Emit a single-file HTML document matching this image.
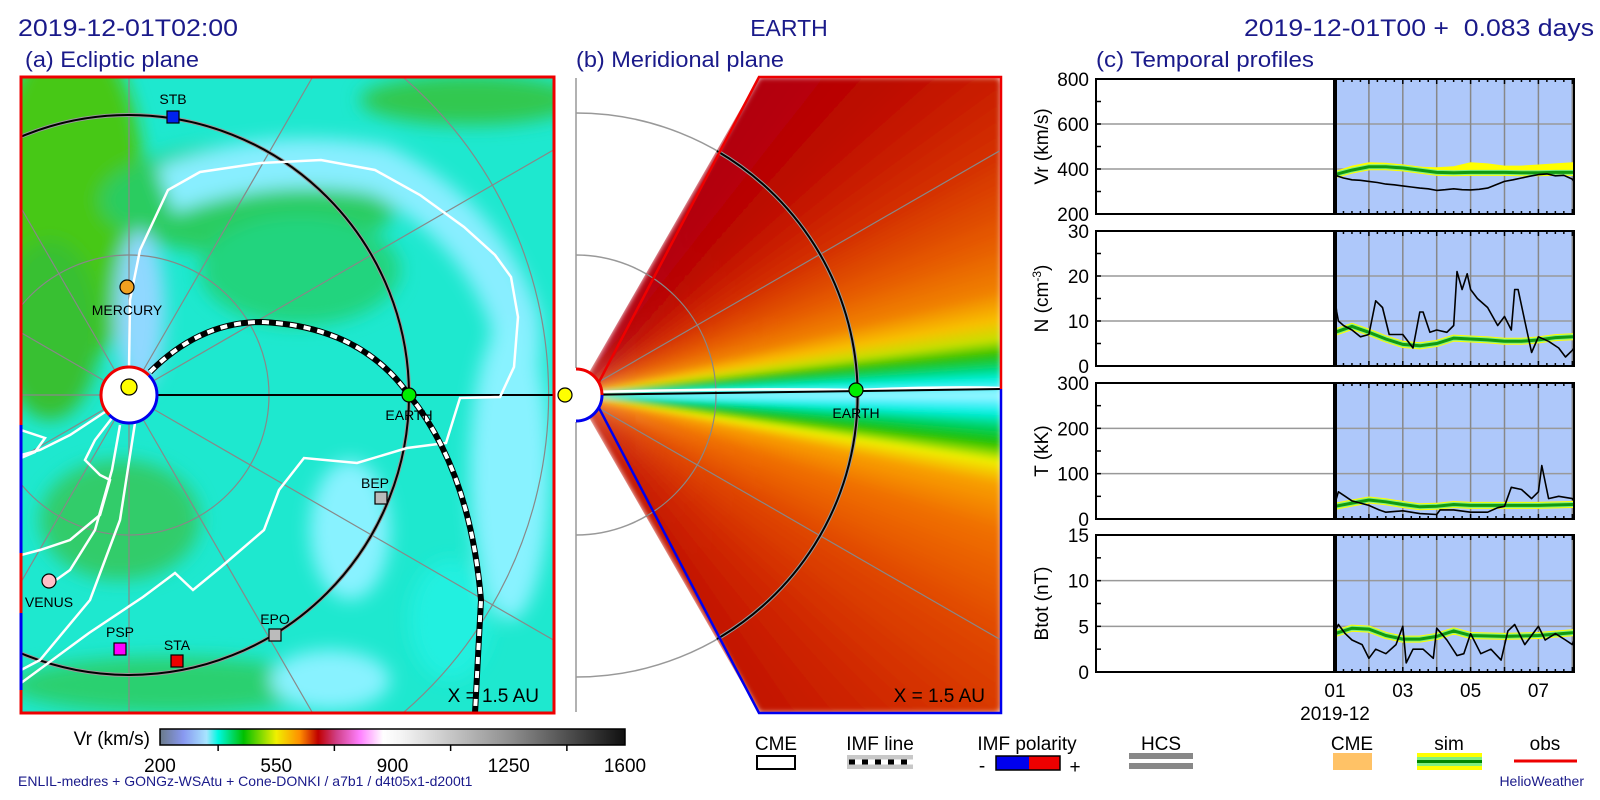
<!DOCTYPE html>
<html><head><meta charset="utf-8">
<style>
html,body{margin:0;padding:0;background:#fff;width:1600px;height:800px;overflow:hidden;}
svg{display:block;font-family:"Liberation Sans",sans-serif;}
</style></head>
<body>
<svg id="fig" width="1600" height="800" viewBox="0 0 1600 800" xmlns="http://www.w3.org/2000/svg">
<defs>
  <filter id="blur8" x="-20%" y="-20%" width="140%" height="140%"><feGaussianBlur stdDeviation="9"/></filter>
  <filter id="blur3"><feGaussianBlur stdDeviation="3"/></filter>
  <clipPath id="clipA"><rect x="21" y="77" width="533" height="636"/></clipPath>
  <clipPath id="clipB"><polygon points="576,395 759,77 1001,77 1001,713 759,713"/></clipPath>
  <linearGradient id="cbar" x1="0" x2="1" y1="0" y2="0">
    <stop offset="0" stop-color="#6a7a8a"/>
    <stop offset="0.05" stop-color="#8898f0"/>
    <stop offset="0.1" stop-color="#a8e4ff"/>
    <stop offset="0.125" stop-color="#00f8e0"/>
    <stop offset="0.18" stop-color="#00c000"/>
    <stop offset="0.25" stop-color="#f0f000"/>
    <stop offset="0.3" stop-color="#ff9000"/>
    <stop offset="0.34" stop-color="#c00000"/>
    <stop offset="0.38" stop-color="#d04088"/>
    <stop offset="0.43" stop-color="#ff80ff"/>
    <stop offset="0.48" stop-color="#ffffff"/>
    <stop offset="0.52" stop-color="#f4f4f4"/>
    <stop offset="0.75" stop-color="#909090"/>
    <stop offset="1" stop-color="#101010"/>
  </linearGradient>
</defs>

<text x="18" y="36" font-size="24" fill="#1a1a8a" textLength="220" lengthAdjust="spacingAndGlyphs">2019-12-01T02:00</text>
<text x="789" y="36" font-size="23" fill="#1a1a8a" text-anchor="middle">EARTH</text>
<text x="1594" y="36" font-size="24" fill="#1a1a8a" text-anchor="end" xml:space="preserve" textLength="350" lengthAdjust="spacingAndGlyphs">2019-12-01T00 +  0.083 days</text>
<text x="25" y="67" font-size="22" fill="#1a1a8a" textLength="174" lengthAdjust="spacingAndGlyphs">(a) Ecliptic plane</text>
<text x="576" y="67" font-size="22" fill="#1a1a8a" textLength="208" lengthAdjust="spacingAndGlyphs">(b) Meridional plane</text>
<text x="1096" y="67" font-size="22" fill="#1a1a8a" textLength="218" lengthAdjust="spacingAndGlyphs">(c) Temporal profiles</text>

<g id="panelA" clip-path="url(#clipA)">
  <rect x="21" y="77" width="533" height="636" fill="#1ee8cf"/>
  <g filter="url(#blur8)">
    <ellipse cx="70" cy="200" rx="75" ry="170" fill="#46c812"/>
    <ellipse cx="50" cy="330" rx="50" ry="90" fill="#38c030"/>
    <ellipse cx="250" cy="200" rx="150" ry="55" fill="#2ccc60"/>
    <ellipse cx="300" cy="270" rx="100" ry="55" fill="#22d47e"/>
    <ellipse cx="470" cy="100" rx="110" ry="25" fill="#30c850"/>
    <ellipse cx="170" cy="685" rx="160" ry="28" fill="#2cd070"/>
    <ellipse cx="120" cy="520" rx="80" ry="60" fill="#30cc6a"/>
    <path d="M165,190 Q270,150 380,170 Q480,220 515,320 Q520,380 500,400" fill="none" stroke="#88eeff" stroke-width="50"/>
    <ellipse cx="510" cy="470" rx="40" ry="150" fill="#88f2ff"/>
    <ellipse cx="350" cy="530" rx="40" ry="70" fill="#88f2ff"/>
    <ellipse cx="330" cy="680" rx="60" ry="30" fill="#88f2ff"/>
    <ellipse cx="140" cy="310" rx="25" ry="80" fill="#90d8ff"/>
    <ellipse cx="450" cy="620" rx="40" ry="60" fill="#20f0e0"/>
  </g>
  <g id="gridA" stroke="#888" stroke-width="1.2" fill="none">
    <circle cx="129" cy="395" r="140"/>
    <path d="M403,713 A420,420 0 0 0 403,77"/>
  </g>
  <circle cx="129" cy="395" r="280" fill="none" stroke="#999" stroke-width="4"/>
  <circle cx="129" cy="395" r="280" fill="none" stroke="#000" stroke-width="2"/>
  <line x1="21" y1="395" x2="129" y2="395" stroke="#888" stroke-width="1.2"/>
  <line x1="129" y1="395" x2="554" y2="395" stroke="#000" stroke-width="2"/>
  <g fill="none" stroke="#fff" stroke-width="2.5">
    <path d="M129,370 L130,300 L140,250 L168,190 L200,172 L261,163 L321,160 L375,170 L420,195 L464,227 L495,255 L511,277 L518,317 L514,367 L500,397 L460,398 L446,443 L407,448 L357,463 L304,458 L279,490 L264,530 L221,567 L193,590 L175,573 L143,597 L89,633 L21,683"/>
    <path d="M112,418 L95,440 L85,460 L100,475 L110,480 L100,515 L70,540 L40,550 L21,555"/>
    <path d="M108,410 L70,435 L40,450 L21,455"/>
    <path d="M120,425 L112,470 L95,530 L70,570 L49,585"/>
    <path d="M21,430 L45,438 L35,452 L21,458"/>
    <path d="M135,423 L120,520 L90,600 L40,660 L21,670"/>
  </g>
  <path d="M150,372 Q200,322 261,322 Q360,326 409,395 Q470,470 481,600 L475,713" fill="none" stroke="#000" stroke-width="6"/>
  <path d="M150,372 Q200,322 261,322 Q360,326 409,395 Q470,470 481,600 L475,713" fill="none" stroke="#fff" stroke-width="4" stroke-dasharray="7 7"/>
  <circle cx="129" cy="395" r="28" fill="#fff"/>
  <path d="M148.8,375.2 A28,28 0 0 0 109.2,414.8" fill="none" stroke="#e00" stroke-width="3"/>
  <path d="M109.2,414.8 A28,28 0 0 0 148.8,375.2" fill="none" stroke="#00e" stroke-width="3"/>
  <circle cx="129" cy="387" r="8" fill="#ff0" stroke="#000" stroke-width="1.2"/>
  <g font-size="14" text-anchor="middle" fill="#000" stroke="#000" stroke-width="1.2">
    <rect x="167" y="111" width="12" height="12" fill="#0022ee"/>
    <circle cx="127" cy="287" r="7" fill="#f0a020"/>
    <rect x="375" y="492" width="12" height="12" fill="#bbb"/>
    <rect x="269" y="629" width="12" height="12" fill="#bbb"/>
    <rect x="171" y="655" width="12" height="12" fill="#ee0000"/>
    <rect x="114" y="643" width="12" height="12" fill="#ff00ff"/>
    <circle cx="49" cy="581" r="7" fill="#ffc0c8"/>
    <circle cx="409" cy="395" r="7" fill="#00ee00"/>
  </g>
  <g font-size="14" text-anchor="middle" fill="#000">
    <text x="173" y="104">STB</text>
    <text x="127" y="315">MERCURY</text>
    <text x="375" y="488">BEP</text>
    <text x="275" y="624">EPO</text>
    <text x="177" y="650">STA</text>
    <text x="120" y="637">PSP</text>
    <text x="49" y="607">VENUS</text>
    <text x="409" y="420">EARTH</text>
  </g>
  <text x="539" y="702" font-size="19" text-anchor="end" fill="#000">X = 1.5 AU</text>
</g>
<rect x="21" y="77" width="533" height="636" fill="none" stroke="#ee0000" stroke-width="3"/>
<line x1="21" y1="425" x2="21" y2="553" stroke="#0000ee" stroke-width="3"/>
<line x1="21" y1="613" x2="21" y2="690" stroke="#0000ee" stroke-width="3"/>

<g>
  <line x1="576" y1="78" x2="576" y2="368" stroke="#999" stroke-width="1.5"/>
  <line x1="576" y1="422" x2="576" y2="712" stroke="#999" stroke-width="1.5"/>
  <path d="M576,255 A140,140 0 0 1 576,535" fill="none" stroke="#999" stroke-width="1.5"/>
  <path d="M576,113 A282,282 0 0 1 576,677" fill="none" stroke="#999" stroke-width="1.5"/>
  <g clip-path="url(#clipB)">
    <g id="sectorsB" filter="url(#blur3)"></g>
    <g stroke="#888" stroke-width="1.2" fill="none">
      <path d="M576,255 A140,140 0 0 1 576,535"/>
      <line x1="576" y1="395" x2="1001" y2="150"/>
      <line x1="576" y1="395" x2="1001" y2="640"/>
    </g>
    <path d="M590,392 Q750,388 856,390 Q950,386 1001,388" fill="none" stroke="#fff" stroke-width="2.5"/>
    <path d="M717,151 A282,282 0 0 1 717,639" fill="none" stroke="#999" stroke-width="4"/>
    <path d="M717,151 A282,282 0 0 1 717,639" fill="none" stroke="#000" stroke-width="2"/>
    <line x1="576" y1="395" x2="1001" y2="389" stroke="#000" stroke-width="2"/>
  </g>
  <path d="M599,382 L759,77 L1001,77 L1001,389" fill="none" stroke="#ee0000" stroke-width="2.5"/>
  <path d="M1001,389 L1001,713 L759,713 L599,408" fill="none" stroke="#0000ee" stroke-width="2.5"/>
  <path d="M576,369 A26,26 0 0 1 576,421 Z" fill="#fff"/>
  <path d="M576,369 A26,26 0 0 1 602,395" fill="none" stroke="#ee0000" stroke-width="3"/>
  <path d="M602,395 A26,26 0 0 1 576,421" fill="none" stroke="#0000ee" stroke-width="3"/>
  <circle cx="565" cy="395" r="7" fill="#ff0" stroke="#000" stroke-width="1.2"/>
  <circle cx="856" cy="390" r="7" fill="#00ee00" stroke="#000" stroke-width="1.2"/>
  <text x="856" y="418" font-size="14" text-anchor="middle">EARTH</text>
  <text x="985" y="702" font-size="19" text-anchor="end">X = 1.5 AU</text>
</g>

<g id="panelC"></g>

<g>
  <text x="150" y="745" font-size="19" text-anchor="end">Vr (km/s)</text>
  <rect x="160" y="729" width="465" height="16" fill="url(#cbar)" stroke="#000" stroke-width="1.5"/>
  <g id="cbTicks" font-size="19" text-anchor="middle"></g>
</g>
<text x="18" y="786" font-size="14" fill="#1a1a8a">ENLIL-medres + GONGz-WSAtu + Cone-DONKI / a7b1 / d4t05x1-d200t1</text>
<text x="1584" y="786" font-size="14" fill="#1a1a8a" text-anchor="end">HelioWeather</text>

<g font-size="19" text-anchor="middle">
  <g>
    <text x="776" y="750">CME</text>
    <rect x="757" y="756" width="38" height="13" fill="#fff" stroke="#000" stroke-width="2"/>
  </g>
  <g>
    <text x="880" y="750">IMF line</text>
    <rect x="847" y="755" width="66" height="14" fill="#c8c8c8"/>
    <line x1="849" y1="762" x2="913" y2="762" stroke="#000" stroke-width="5" stroke-dasharray="6 7"/>
    <line x1="855" y1="762" x2="913" y2="762" stroke="#fff" stroke-width="5" stroke-dasharray="7 6"/>
  </g>
  <g>
    <text x="1027" y="750">IMF polarity</text>
    <text x="982" y="772">-</text>
    <rect x="996" y="756" width="33" height="14" fill="#0000ee"/>
    <rect x="1029" y="756" width="31" height="14" fill="#ee0000"/>
    <rect x="996" y="756" width="64" height="14" fill="none" stroke="#000" stroke-width="1.5"/>
    <text x="1075" y="773">+</text>
  </g>
  <g>
    <text x="1161" y="750">HCS</text>
    <rect x="1129" y="753" width="64" height="6" fill="#888"/>
    <rect x="1129" y="763" width="64" height="6" fill="#888"/>
  </g>
  <g>
    <text x="1352" y="750">CME</text>
    <rect x="1333" y="753" width="39" height="17" fill="#ffc266"/>
  </g>
  <g>
    <text x="1449" y="750">sim</text>
    <rect x="1417" y="753" width="65" height="17" fill="#ffff00"/>
    <rect x="1417" y="757" width="65" height="9" fill="#80f080"/>
    <line x1="1417" y1="761.5" x2="1482" y2="761.5" stroke="#008800" stroke-width="3"/>
  </g>
  <g>
    <text x="1545" y="750">obs</text>
    <line x1="1514" y1="761" x2="1577" y2="761" stroke="#ee0000" stroke-width="3"/>
  </g>
</g>
</svg>

<script>
const dayTickLabels = ["01", "03", "05", "07"];
const dayTickValues = [0, 2, 4, 6];

const vrObsDays = [0, 0.25, 0.5, 0.75, 1, 1.25, 1.5, 1.75, 2, 2.25, 2.5, 2.75, 3, 3.25, 3.5, 3.75, 4, 4.25, 4.5, 4.75, 5, 5.25, 5.5, 5.75, 6, 6.25, 6.5, 6.75, 7, 7.05];
const vrObs = [372, 360, 352, 350, 345, 340, 333, 330, 325, 320, 315, 312, 305, 308, 312, 308, 307, 310, 315, 330, 345, 352, 360, 368, 375, 378, 370, 372, 355, 345];
const vrSimDays = [0, 0.5, 1, 1.5, 2, 2.5, 3, 3.5, 4, 4.5, 5, 5.5, 6, 6.5, 7, 7.05];
const vrSim = [375, 395, 410, 410, 405, 395, 385, 383, 385, 385, 385, 383, 383, 385, 385, 385];
const vrSimHigh = [390, 415, 430, 428, 420, 410, 408, 412, 430, 425, 415, 415, 420, 425, 430, 430];

const nObsDays = [0, 0.05, 0.1, 0.25, 0.5, 0.75, 1.0, 1.2, 1.4, 1.6, 2.0, 2.3, 2.5, 2.6, 2.8, 3.0, 3.3, 3.5, 3.6, 3.75, 3.9, 4.0, 4.2, 4.5, 4.8, 5.0, 5.2, 5.3, 5.4, 5.6, 5.8, 6.0, 6.3, 6.6, 6.8, 7.0, 7.05];
const nObs = [15, 12, 10, 9, 8, 6.5, 7, 14.5, 13, 7, 7, 4, 12, 12, 7.5, 8, 7.5, 9, 21, 17, 20.5, 17, 15, 13, 9, 11, 8, 17, 17, 10, 3, 6.5, 5.5, 4, 2, 3.5, 4];
const nSimDays = [0, 0.5, 1, 1.5, 2, 2.5, 3, 3.5, 4, 4.5, 5, 5.5, 6, 6.5, 7, 7.05];
const nSim = [7.5, 8.8, 7.5, 6, 4.8, 4.5, 5, 6.2, 6, 5.8, 5.5, 5.5, 5.8, 6.3, 6.5, 6.5];

const tObsDays = [0, 0.1, 0.3, 0.5, 1.0, 1.3, 1.5, 2.0, 2.5, 3.0, 3.1, 3.5, 4.0, 4.5, 4.8, 5.0, 5.2, 5.5, 5.8, 6.0, 6.1, 6.3, 6.6, 7.0, 7.05];
const tObs = [35, 60, 50, 40, 30, 20, 15, 18, 12, 10, 20, 20, 15, 15, 25, 28, 70, 65, 45, 60, 118, 45, 50, 45, 40];
const tSimDays = [0, 0.5, 1, 1.5, 2, 2.5, 3, 3.5, 4, 5, 6, 7, 7.05];
const tSim = [28, 35, 42, 38, 32, 27, 28, 32, 30, 30, 30, 32, 32];

const bObsDays = [0, 0.1, 0.3, 0.5, 0.8, 1.0, 1.2, 1.5, 1.8, 2.0, 2.1, 2.3, 2.6, 2.9, 3.0, 3.3, 3.6, 3.8, 4.0, 4.3, 4.6, 4.9, 5.1, 5.3, 5.6, 5.9, 6.0, 6.2, 6.5, 6.8, 7.0, 7.05];
const bObs = [4.5, 5.2, 4.2, 3.5, 3.0, 1.5, 2.5, 2.0, 3.0, 5.0, 1.0, 2.5, 2.5, 1.5, 4.8, 3.5, 1.8, 2.0, 4.2, 2.0, 2.5, 1.3, 4.5, 5.2, 3.0, 4.5, 5.0, 3.5, 4.2, 3.5, 3.0, 3.5];
const bSimDays = [0, 0.5, 1, 1.5, 2, 2.5, 3, 3.5, 4, 5, 6, 7, 7.05];
const bSim = [4.2, 4.8, 4.7, 4.0, 3.6, 3.6, 3.9, 4.5, 4.0, 3.9, 4.0, 4.3, 4.3];

const NS = "http://www.w3.org/2000/svg";
function mk(tag, attrs, parent) {
  const el = document.createElementNS(NS, tag);
  for (const k in attrs) el.setAttribute(k, attrs[k]);
  if (parent) parent.appendChild(el);
  return el;
}
const X0 = 1096, X1 = 1574, DMIN = -7.05, DMAX = 7.05;
function xDay(d) { return X0 + (d - DMIN) / (DMAX - DMIN) * (X1 - X0); }
function yScale(v, p) { return p.bot - (v - p.min) / (p.max - p.min) * (p.bot - p.top); }
function pts(days, vals, p) { return days.map((d, i) => xDay(d).toFixed(1) + "," + yScale(vals[i], p).toFixed(1)).join(" "); }

const panels = [
  {name: "vr", top: 79, bot: 214, min: 200, max: 800, major: 200, minor: 100, title: "Vr (km/s)", obsD: vrObsDays, obs: vrObs, simD: vrSimDays, sim: vrSim},
  {name: "density", top: 231, bot: 366, min: 0, max: 30, major: 10, minor: 5, title: "N (cm", obsD: nObsDays, obs: nObs, simD: nSimDays, sim: nSim},
  {name: "temperature", top: 383, bot: 519, min: 0, max: 300, major: 100, minor: 50, title: "T (kK)", obsD: tObsDays, obs: tObs, simD: tSimDays, sim: tSim},
  {name: "btot", top: 535, bot: 672, min: 0, max: 15, major: 5, minor: 2.5, title: "Btot (nT)", obsD: bObsDays, obs: bObs, simD: bSimDays, sim: bSim}
];
const C = document.getElementById("panelC");
panels.forEach(function (p) {
  const g = mk("g", {}, C);
  
  
  const x0 = xDay(0);
  const shade = mk("rect", {x: x0, y: p.top, width: X1 - x0, height: p.bot - p.top, fill: "#aec8fa"}, g);
  
  
  for (let v = p.min + p.major; v < p.max; v += p.major) {
    mk("line", {x1: X0, x2: X1, y1: yScale(v, p), y2: yScale(v, p), stroke: "#999", "stroke-width": 1.5}, g);
  }
  for (let d = 1; d <= 7; d++) {
    mk("line", {x1: xDay(d), x2: xDay(d), y1: p.top, y2: p.bot, stroke: "#888", "stroke-width": 1.5}, g);
  }
  for (let d = 0.25; d < 7.05; d += 0.25) {
    const len = (Math.abs(d - Math.round(d)) < 0.01) ? 5 : 3;
    mk("line", {x1: xDay(d), x2: xDay(d), y1: p.top, y2: p.top + len, stroke: "#000", "stroke-width": 1.5}, g);
    mk("line", {x1: xDay(d), x2: xDay(d), y1: p.bot, y2: p.bot - len, stroke: "#000", "stroke-width": 1.5}, g);
  }
  for (let v = p.min + p.minor; v < p.max; v += p.minor) {
    mk("line", {x1: X0, x2: X0 + 5, y1: yScale(v, p), y2: yScale(v, p), stroke: "#000", "stroke-width": 1.5}, g);
  }
  if (p.name === "vr") {
    const up = vrSimDays.map((d, i) => xDay(d).toFixed(1) + "," + yScale(vrSimHigh[i], p).toFixed(1));
    const lo = vrSimDays.map((d, i) => xDay(d).toFixed(1) + "," + yScale(vrSim[i] - 6, p).toFixed(1)).reverse();
    const band = mk("polygon", {points: up.concat(lo).join(" "), fill: "#ffff00"}, g);
    
    
  }
  mk("polyline", {points: pts(p.simD, p.sim, p), fill: "none", stroke: "#ffff00", "stroke-width": 7}, g);
  mk("polyline", {points: pts(p.simD, p.sim, p), fill: "none", stroke: "#80f080", "stroke-width": 5}, g);
  const sim = mk("polyline", {points: pts(p.simD, p.sim, p), fill: "none", stroke: "#119911", "stroke-width": 3}, g);
  
  
  const obs = mk("polyline", {points: pts(p.obsD, p.obs, p), fill: "none", stroke: "#000", "stroke-width": 1.6, "stroke-linejoin": "round"}, g);
  
  
  mk("line", {x1: x0, x2: x0, y1: p.top, y2: p.bot, stroke: "#000", "stroke-width": 4}, g);
  mk("rect", {x: X0, y: p.top, width: X1 - X0, height: p.bot - p.top, fill: "none", stroke: "#000", "stroke-width": 2}, g);
  for (let v = p.min; v <= p.max + 1e-9; v += p.major) {
    const t = mk("text", {x: 1089, y: yScale(v, p) + 7, "font-size": 19, "text-anchor": "end"}, g);
    t.textContent = String(v);
    
    
  }
  const cy = (p.top + p.bot) / 2;
  const tt = mk("text", {x: 0, y: 0, "font-size": 19, "text-anchor": "middle", transform: "translate(1048," + cy + ") rotate(-90)"}, g);
  
  
  tt.textContent = p.title;
  if (p.name === "density") {
    const s = mk("tspan", {dy: -7, "font-size": 12}, tt); s.textContent = "-3";
    const s2 = mk("tspan", {dy: 7}, tt); s2.textContent = ")";
  }
});
dayTickValues.forEach(function (d, i) {
  const t = mk("text", {x: xDay(d), y: 697, "font-size": 19, "text-anchor": "middle"}, C);
  t.textContent = dayTickLabels[i];
  
  
});
const mon = mk("text", {x: xDay(0), y: 720, "font-size": 19, "text-anchor": "middle"}, C);
mon.textContent = "2019-12";



// radial grid lines in panel A, each ending at the box edge
const gA = document.getElementById("gridA");
const boxA = {l: 21, r: 554, t: 77, b: 713}, SX = 129, SY = 395;
for (let a = 30; a < 360; a += 30) {
  if (a === 180 || a === 0) continue;
  const rad = a * Math.PI / 180, c = Math.cos(rad), s = -Math.sin(rad);
  let L = 1e9;
  if (c > 1e-6) L = Math.min(L, (boxA.r - SX) / c);
  if (c < -1e-6) L = Math.min(L, (boxA.l - SX) / c);
  if (s > 1e-6) L = Math.min(L, (boxA.b - SY) / s);
  if (s < -1e-6) L = Math.min(L, (boxA.t - SY) / s);
  mk("line", {x1: SX + 29 * c, y1: SY + 29 * s, x2: SX + L * c, y2: SY + L * s}, gA);
}

// panel B background colour sectors, each ending at the wedge boundary
const sb = document.getElementById("sectorsB");
const angStops = [[62,"#b00010"],[45,"#bc0800"],[30,"#d43000"],[20,"#e65c00"],[14,"#f08000"],[10,"#f8c000"],[7.5,"#c8e000"],[5.5,"#30c000"],[3.5,"#00d880"],[2,"#00f4e4"],[0.6,"#70f0ff"],[0,"#a0f8ff"],[-1,"#60f0ff"],[-2.5,"#00f0e0"],[-4.5,"#00d060"],[-6.5,"#20c000"],[-9,"#f0f000"],[-12,"#f8a000"],[-18,"#f07000"],[-30,"#e04800"],[-45,"#d02800"],[-62,"#c01000"]];
function hex(c){return [parseInt(c.substr(1,2),16),parseInt(c.substr(3,2),16),parseInt(c.substr(5,2),16)];}
function colAt(a){
  for (let i = 0; i < angStops.length - 1; i++){
    const a1 = angStops[i][0], c1 = angStops[i][1], a2 = angStops[i+1][0], c2 = angStops[i+1][1];
    if (a <= a1 && a >= a2){
      const t = (a1 - a) / (a1 - a2); const h1 = hex(c1), h2 = hex(c2);
      return "rgb(" + h1.map((v,k) => Math.round(v + (h2[k] - v) * t)).join(",") + ")";
    }
  }
  return angStops[angStops.length - 1][1];
}
function edgePt(angDeg){
  const r = angDeg * Math.PI / 180, c = Math.cos(r), s = Math.sin(r);
  let L = 425 / c;
  if (Math.abs(s) > 1e-6) L = Math.min(L, 318 / Math.abs(s));
  return (576 + L * c).toFixed(1) + "," + (395 - L * s).toFixed(1);
}
for (let a = 60; a > -60; a -= 0.5) {
  mk("polygon", {points: "576,395 " + edgePt(a) + " " + edgePt(Math.max(a - 0.6, -60)), fill: colAt(a - 0.25)}, sb);
}

const cbValues = [200, 550, 900, 1250, 1600];
const cbT = document.getElementById("cbTicks");
function xCb(v){return 160 + (v - 200) / 1400 * 465;}
for (let v = 375; v < 1600; v += 350) mk("line", {x1: xCb(v), x2: xCb(v), y1: 745, y2: 751, stroke: "#000", "stroke-width": 1.5}, cbT);
cbValues.forEach(function (v) {
  const t = mk("text", {x: xCb(v), y: 772}, cbT);
  t.textContent = String(v);
  
  
});
</script>
</body></html>
